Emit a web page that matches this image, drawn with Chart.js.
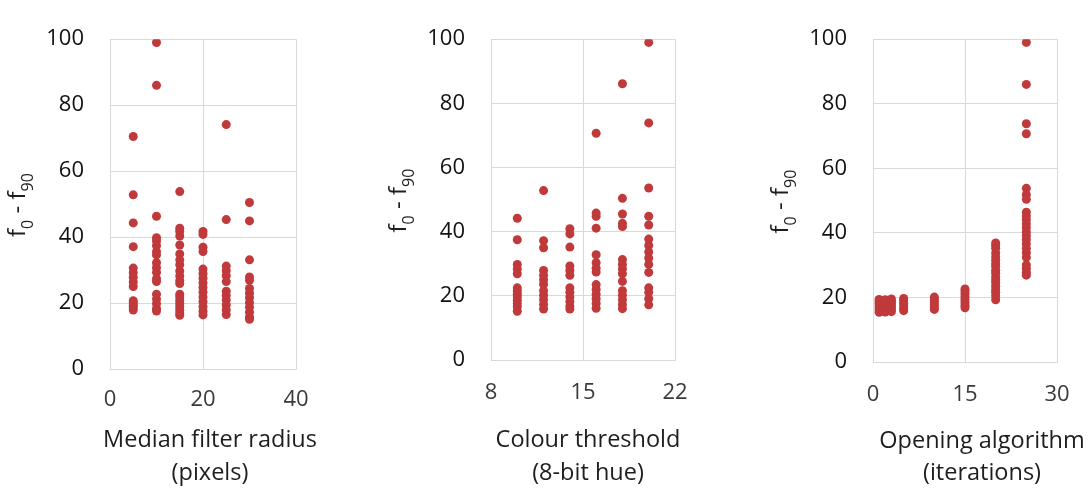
<!DOCTYPE html>
<html><head><meta charset="utf-8">
<script src="https://cdn.jsdelivr.net/npm/chart.js@4"></script>
<style>
html,body{margin:0;padding:0;background:#fff;width:1090px;height:490px;overflow:hidden}
.p{position:absolute;top:0;height:490px}
</style></head><body>
<div class="p" style="left:0;width:360px"><canvas id="c1"></canvas></div>
<div class="p" style="left:381px;width:334px"><canvas id="c2"></canvas></div>
<div class="p" style="left:763px;width:327px"><canvas id="c3"></canvas></div>
<script>
// ---- Data ----
const yTicks = [0, 20, 40, 60, 80, 100];
const yTitleParts = ['f', '0', ' - f', '90'];

const medianRadius = [5, 10, 15, 20, 25, 30];
const medianValues = [
  [70.5, 52.8, 44.3, 37.1, 30.6, 29.2, 27.8, 26.4, 25.0, 20.7, 20.0, 19.3, 18.6, 17.9],
  [99.0, 86.0, 46.3, 39.8, 38.8, 37.4, 35.6, 34.6, 32.2, 30.7, 29.3, 27.4, 26.5, 22.7, 21.2, 19.8, 18.3, 17.6],
  [53.8, 42.7, 41.7, 40.3, 37.6, 34.9, 33.1, 31.6, 29.7, 28.2, 26.8, 25.9, 22.7, 21.8, 20.8, 19.8, 18.9, 17.9, 17.0, 16.3],
  [41.7, 40.8, 36.9, 35.6, 30.3, 28.9, 27.5, 26.1, 24.7, 23.3, 21.8, 20.4, 18.9, 17.5, 16.4],
  [74.1, 45.3, 31.2, 29.8, 28.3, 26.5, 23.6, 22.3, 20.9, 19.4, 17.9, 16.5],
  [50.5, 44.9, 33.1, 27.9, 26.9, 24.4, 23.0, 21.6, 20.1, 18.7, 17.2, 15.8, 15.1]
];
const medianTicks = [0, 20, 40];
const medianTitle = ['Median filter radius', '(pixels)'];

const colourHue = [10, 12, 14, 16, 18, 20];
const colourValues = [
  [44.2, 37.5, 29.8, 28.4, 26.9, 22.5, 21.5, 20.5, 19.6, 18.6, 17.6, 16.6, 15.2],
  [52.8, 37.2, 35.0, 27.9, 26.4, 25.0, 23.6, 21.6, 20.2, 18.8, 17.3, 15.9],
  [40.9, 39.3, 35.2, 29.3, 27.9, 26.4, 22.5, 21.1, 19.6, 18.2, 16.8, 15.9],
  [70.7, 45.8, 44.8, 41.1, 32.8, 30.3, 28.6, 27.4, 23.5, 22.0, 20.5, 19.1, 17.6, 16.1],
  [86.1, 50.4, 45.5, 42.6, 41.6, 31.3, 29.8, 28.4, 26.9, 24.5, 21.6, 20.2, 18.8, 17.3, 16.0],
  [99.0, 73.9, 53.6, 44.8, 42.1, 37.7, 35.7, 33.7, 31.8, 29.8, 27.3, 22.5, 21.1, 19.1, 17.2]
];
const colourTicks = [8, 15, 22];
const colourTitle = ['Colour threshold', '(8-bit hue)'];

const openingIter = [1, 2, 3, 5, 10, 15, 20, 25];
const openingValues = [
  [15.4, 16.1, 16.8, 17.5, 18.2, 18.8, 19.4],
  [15.5, 16.2, 16.9, 17.6, 18.3, 18.9, 19.3],
  [15.6, 16.3, 17.0, 17.7, 18.4, 19.0, 19.5],
  [15.9, 16.6, 17.4, 18.2, 19.0, 19.7],
  [16.3, 17.0, 17.8, 18.6, 19.4, 20.1],
  [16.8, 17.6, 18.5, 19.4, 20.3, 21.2, 22.0, 22.6],
  [19.3, 20.5, 21.6, 22.4, 23.5, 24.6, 25.4, 26.3, 27.5, 28.4, 29.6, 30.4, 31.5, 32.6, 33.8, 35.2, 36.1, 36.9],
  [99.0, 86.0, 73.8, 70.7, 53.8, 51.8, 50.4, 46.4, 45.2, 44.1, 42.8, 41.6, 40.3, 39.1, 37.9, 36.6, 35.2, 33.9, 32.4, 30.1, 29.0, 27.8, 26.9]
];
const openingTicks = [0, 15, 30];
const openingTitle = ['Opening algorithm', '(iterations)'];

// ---- Drawing ----
const FONT = '"Open Sans", "Noto Sans", sans-serif';
const DOT = '#C0393B';
const GRID = '#D9D9D9';

const titlePlugin = {
  id: 'panelTitles',
  afterDraw(chart, args, o) {
    const {ctx, chartArea: a} = chart;
    ctx.save();
    ctx.fillStyle = '#1e1e1e';
    ctx.font = o.xSize + 'px ' + FONT;
    ctx.textAlign = 'center';
    ctx.textBaseline = 'alphabetic';
    const cx = (a.left + a.right) / 2 + o.xShift;
    o.xTitle.forEach((t, i) => ctx.fillText(t, cx, o.xBase[i]));
    // y title with subscripts
    const main = o.ySize + 'px ' + FONT, sub = o.subSize + 'px ' + FONT;
    let total = 0;
    const widths = yTitleParts.map((t, i) => {
      ctx.font = i % 2 ? sub : main;
      const w = ctx.measureText(t).width;
      total += w; return w;
    });
    const cy = (a.top + a.bottom) / 2 + o.yShift;
    ctx.translate(o.yBaseX, cy);
    ctx.rotate(-Math.PI / 2);
    ctx.textAlign = 'left';
    let x = -total / 2;
    yTitleParts.forEach((t, i) => {
      ctx.font = i % 2 ? sub : main;
      ctx.fillText(t, x, i % 2 ? o.subDrop : 0);
      x += widths[i];
    });
    ctx.restore();
  }
};

function makeChart(id, xs, ys, ticks, title, cfg) {
  const pts = [];
  xs.forEach((x, i) => ys[i].forEach(y => pts.push({x: x, y: y})));
  new Chart(document.getElementById(id), {
    type: 'scatter',
    data: {datasets: [{data: pts, backgroundColor: DOT, borderWidth: 0, pointRadius: 4.5, pointHoverRadius: 4.5}]},
    plugins: [titlePlugin],
    options: {
      responsive: true, maintainAspectRatio: false, animation: false,
      layout: {padding: {left: 0, top: cfg.top, right: cfg.right, bottom: 0}},
      plugins: {
        legend: {display: false}, tooltip: {enabled: false},
        panelTitles: {xTitle: title, xSize: 23.5, xShift: cfg.xShift, xBase: cfg.xBase,
          ySize: 24, subSize: 16, subDrop: 8, yBaseX: 25, yShift: 1}
      },
      scales: {
        x: {
          type: 'linear', min: ticks[0], max: ticks[ticks.length - 1],
          afterBuildTicks: s => { s.ticks = ticks.map(v => ({value: v})); },
          afterFit: s => { s.height = cfg.xh; },
          grid: {color: GRID, drawTicks: false, lineWidth: 1},
          border: {color: GRID},
          ticks: {color: '#3a3a3a', font: {family: FONT, size: 22}, padding: cfg.xpad, maxRotation: 0}
        },
        y: {
          type: 'linear', min: 0, max: 100,
          afterBuildTicks: s => { s.ticks = yTicks.map(v => ({value: v})); },
          afterFit: s => { s.width = 110; },
          grid: {color: GRID, drawTicks: false, lineWidth: 1},
          border: {color: GRID},
          ticks: {color: '#111111', font: {family: FONT, size: 22}, padding: 26}
        }
      }
    }
  });
}

makeChart('c1', medianRadius, medianValues, medianTicks, medianTitle,
  {top: 19, right: 64, xh: 121, xpad: 18, xShift: 7, xBase: [447, 480]});
makeChart('c2', colourHue, colourValues, colourTicks, colourTitle,
  {top: 19, right: 40, xh: 130, xpad: 20, xShift: 5, xBase: [447, 480]});
makeChart('c3', openingIter, openingValues, openingTicks, openingTitle,
  {top: 21, right: 33, xh: 128, xpad: 20, xShift: 17, xBase: [448, 480]});
</script>
</body></html>
